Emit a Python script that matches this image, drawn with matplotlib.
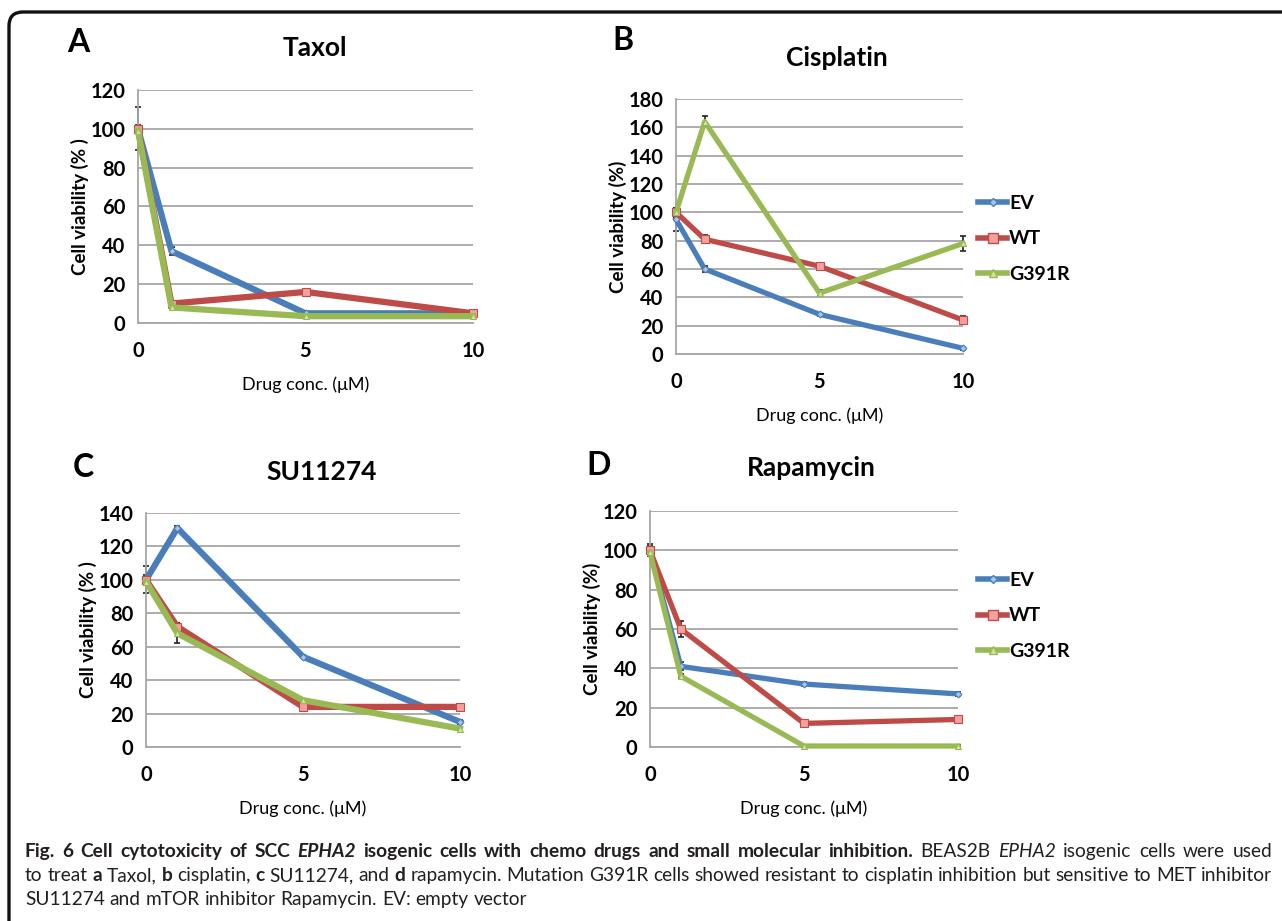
import re
import matplotlib
matplotlib.use("Agg")
import matplotlib.pyplot as plt
from matplotlib.patches import FancyBboxPatch
from matplotlib.lines import Line2D
from matplotlib.transforms import IdentityTransform

W, H = 1282, 921

# drug concentrations (uM)
conc = [0, 1, 5, 10]
conc_ticks = [0, 5, 10]

# A - Taxol
taxol_ev = [100, 37, 5, 5]
taxol_wt = [100, 10, 16, 5]
taxol_g391r = [99, 8, 3.5, 3.5]
taxol_ev_err = [11, 2, 0.5, 0.5]
taxol_wt_err = [2, 1, 1, 1]
taxol_g391r_err = [1, 1, 0.5, 0.5]

# B - Cisplatin
cis_ev = [95, 60, 28, 4]
cis_wt = [100, 81, 62, 24]
cis_g391r = [100, 164, 43, 78]
cis_ev_err = [8, 2, 1, 1]
cis_wt_err = [3, 3, 2, 3]
cis_g391r_err = [3, 4, 2, 5]

# C - SU11274
su_ev = [100, 131, 54, 15]
su_wt = [100, 72, 24, 24]
su_g391r = [99, 68, 28, 11]
su_ev_err = [8, 1, 1, 1]
su_wt_err = [3, 2, 2, 2]
su_g391r_err = [2, 6, 1, 1]

# D - Rapamycin
rap_ev = [100, 41, 32, 27]
rap_wt = [100, 60, 12, 14]
rap_g391r = [99, 36, 0.5, 0.5]
rap_ev_err = [3, 2, 1, 1]
rap_wt_err = [2, 4, 1, 1]
rap_g391r_err = [1, 1, 0.5, 0.5]

series_names = ["EV", "WT", "G391R"]
line_colors = ["#4A7EBB", "#BE4B48", "#98B954"]
face_colors = ["#A9C4EB", "#F4A09E", "#CFE5A0"]
markers = ["D", "s", "^"]
marker_sizes = [3.5, 6, 4.5]

chart_font = ["Lato", "DejaVu Sans"]

fig = plt.figure(figsize=(W / 100, H / 100), dpi=100)
fig.patch.set_facecolor("white")


def px_axes(left, right, top, bottom):
    # pixel box (measured from the top-left corner) -> figure fraction
    return [left / W, 1 - bottom / H, (right - left) / W, (bottom - top) / H]


def draw_panel(box, ys, errs, ymax, ystep, ylabel, lw):
    ax = fig.add_axes(px_axes(*box))
    for i in range(3):
        ax.errorbar(conc, ys[i], yerr=errs[i], fmt="none", ecolor="#222222",
                    elinewidth=1.2, capsize=2.5, capthick=1.2, zorder=2, clip_on=False)
    for i in range(3):
        ax.plot(conc, ys[i], color=line_colors[i], lw=lw, marker=markers[i],
                ms=marker_sizes[i], mfc=face_colors[i], mec=line_colors[i], mew=0.8,
                solid_joinstyle="round", zorder=3 + i, clip_on=False)
    ax.set_xlim(0, 10)
    ax.set_ylim(0, ymax)
    ax.set_xticks(conc_ticks)
    ax.set_yticks(range(0, ymax + 1, ystep))
    ax.grid(axis="y", color="#a6a6a6", lw=1.3)
    ax.set_axisbelow(True)
    for s in ["top", "right"]:
        ax.spines[s].set_visible(False)
    ax.spines["left"].set_color("#a6a6a6")
    ax.spines["bottom"].set_color("#a6a6a6")
    ax.spines["left"].set_linewidth(1.3)
    ax.spines["bottom"].set_linewidth(1.3)
    ax.tick_params(length=0, labelsize=14.5)
    ax.tick_params(axis="x", pad=13)
    ax.tick_params(axis="y", pad=9)
    for lab in ax.get_xticklabels() + ax.get_yticklabels():
        lab.set_fontweight("bold")
        lab.set_family(chart_font)
    ax.set_ylabel(ylabel, fontsize=13.5, fontweight="bold", family=chart_font, labelpad=1)
    ax.set_xlabel("Drug conc. (\u03bcM)", fontsize=13, family=chart_font, labelpad=11)
    return ax


def px_text(x, y, s, **kw):
    fig.text(x / W, 1 - y / H, s, ha="center", va="center", family=chart_font, **kw)


# panel A
draw_panel((138, 473, 90, 323), [taxol_ev, taxol_wt, taxol_g391r],
           [taxol_ev_err, taxol_wt_err, taxol_g391r_err], 120, 20, "Cell viability (% )", 4.5)
px_text(78, 43, "A", fontsize=23, fontweight="bold")
px_text(315, 48, "Taxol", fontsize=19, fontweight="bold")

# panel B
axB = draw_panel((676, 963, 99, 354), [cis_ev, cis_wt, cis_g391r],
                 [cis_ev_err, cis_wt_err, cis_g391r_err], 180, 20, "Cell viability (%)", 3.8)
px_text(623, 40, "B", fontsize=23, fontweight="bold")
px_text(837, 58, "Cisplatin", fontsize=19, fontweight="bold")

# panel C
draw_panel((146, 460, 513, 747), [su_ev, su_wt, su_g391r],
           [su_ev_err, su_wt_err, su_g391r_err], 140, 20, "Cell viability (% )", 4.5)
px_text(83, 467, "C", fontsize=23, fontweight="bold")
px_text(322, 472, "SU11274", fontsize=19, fontweight="bold")

# panel D
axD = draw_panel((650, 958, 511, 747), [rap_ev, rap_wt, rap_g391r],
                 [rap_ev_err, rap_wt_err, rap_g391r_err], 120, 20, "Cell viability (%)", 3.8)
px_text(599, 465, "D", fontsize=23, fontweight="bold")
px_text(811, 468, "Rapamycin", fontsize=19, fontweight="bold")

# legends next to B and D
handles = [Line2D([], [], color=line_colors[i], lw=4, marker=markers[i], ms=marker_sizes[i] + 1,
                  mfc=face_colors[i], mec=line_colors[i]) for i in range(3)]
for ax, top in [(axB, 195), (axD, 572)]:
    leg = ax.legend(handles, series_names, loc="upper left", bbox_to_anchor=(978 / W, 1 - top / H),
                    bbox_transform=fig.transFigure, frameon=False, borderpad=0, borderaxespad=0,
                    handlelength=1.5, handletextpad=0.1, labelspacing=0.95,
                    prop={"family": chart_font, "weight": "bold", "size": 14})

# outer rounded frame (right and bottom fall outside the image)
frame = FancyBboxPatch((9, -60), 1400, H - 12 + 60, boxstyle="round,pad=0,rounding_size=14",
                       fill=False, ec="#111111", lw=2.4, transform=IdentityTransform())
fig.add_artist(frame)

# caption with mixed styles
cap_font = ["Lato", "DejaVu Sans"]
caption = [
    [("Fig. 6 Cell cytotoxicity of SCC ", "bold", "normal"), ("EPHA2", "bold", "italic"),
     (" isogenic cells with chemo drugs and small molecular inhibition.", "bold", "normal"),
     (" BEAS2B ", "normal", "normal"), ("EPHA2", "normal", "italic"),
     (" isogenic cells were used", "normal", "normal")],
    [("to treat ", "normal", "normal"), ("a", "bold", "normal"), (" Taxol, ", "normal", "normal"),
     ("b", "bold", "normal"), (" cisplatin, ", "normal", "normal"), ("c", "bold", "normal"),
     (" SU11274, and ", "normal", "normal"), ("d", "bold", "normal"),
     (" rapamycin. Mutation G391R cells showed resistant to cisplatin inhibition but sensitive to MET inhibitor",
      "normal", "normal")],
    [("SU11274 and mTOR inhibitor Rapamycin. EV: empty vector", "normal", "normal")],
]
baselines = [857, 881, 905]
cap_left, cap_right = 25, 1272

renderer = fig.canvas.get_renderer()


def run_width(s, size, weight, style):
    # bars around the string keep leading/trailing spaces in the measure
    t1 = fig.text(0, 0, "|" + s + "|", fontsize=size, fontweight=weight, fontstyle=style, family=cap_font)
    t2 = fig.text(0, 0, "||", fontsize=size, fontweight=weight, fontstyle=style, family=cap_font)
    w = t1.get_window_extent(renderer).width - t2.get_window_extent(renderer).width
    t1.remove()
    t2.remove()
    return w


def split_words(line):
    pieces = []
    for s, wt, st in line:
        for p in re.split(r"( )", s):
            if p:
                pieces.append((p, wt, st))
    return pieces


# pick the size so that the widest line fills the box like in the figure
base = 12
widest = max(sum(run_width(p, base, wt, st) for p, wt, st in split_words(line)) for line in caption)
cap_size = base * (cap_right - cap_left) / widest

for n, (line, yb) in enumerate(zip(caption, baselines)):
    pieces = split_words(line)
    widths = [run_width(p, cap_size, wt, st) for p, wt, st in pieces]
    gaps = sum(1 for p, _, _ in pieces if p == " ")
    extra = 0
    if n < len(caption) - 1 and gaps:
        # justified text, like the journal layout
        extra = (cap_right - cap_left - sum(widths)) / gaps
    x = cap_left
    for (p, wt, st), w in zip(pieces, widths):
        if p == " ":
            x += w + extra
            continue
        fig.text(x, H - yb, p, fontsize=cap_size, fontweight=wt, fontstyle=st, family=cap_font,
                 color="#231f20", ha="left", va="baseline", transform=IdentityTransform())
        x += w

fig.savefig("out.png", dpi=100)
